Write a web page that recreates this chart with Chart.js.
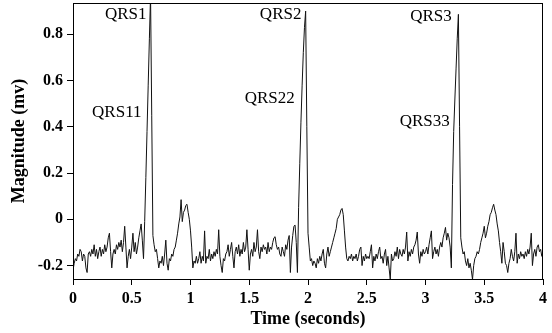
<!DOCTYPE html>
<html>
<head>
<meta charset="utf-8">
<script src="https://cdn.jsdelivr.net/npm/chart.js@4.4.1/dist/chart.umd.min.js"></script>
<style>
  body { margin: 0; background: #fff; }
  canvas { display: block; }
</style>
</head>
<body>
<canvas id="chart" width="552" height="333"></canvas>
<script>
'use strict';

const sampleStep = 0.01;
const magnitude = [
  -0.22, -0.19, -0.17, -0.18, -0.15, -0.16, -0.13, -0.14, -0.18, -0.15,
  -0.16, -0.21, -0.23, -0.15, -0.14, -0.16, -0.13, -0.15, -0.11, -0.16,
  -0.13, -0.17, -0.14, -0.12, -0.16, -0.13, -0.15, -0.11, -0.14, -0.12,
  -0.08, -0.06, -0.14, -0.21, -0.15, -0.13, -0.15, -0.11, -0.13, -0.10,
  -0.12, -0.09, -0.14, -0.10, -0.03, -0.12, -0.21, -0.16, -0.13, -0.17,
  -0.12, -0.06, -0.14, -0.10, -0.15, -0.12, -0.08, -0.05, -0.02, -0.09,
  -0.17, -0.01, 0.18, 0.38, 0.58, 0.78, 0.97, 0.45, -0.07, -0.11,
  -0.14, -0.13, -0.17, -0.21, -0.18, -0.19, -0.16, -0.20, -0.15, -0.09,
  -0.19, -0.22, -0.17, -0.18, -0.15, -0.16, -0.13, -0.12, -0.09, -0.06,
  -0.02, 0.01, 0.085, -0.01, 0.03, 0.04, 0.06, 0.065, 0.03, 0.0,
  -0.05, -0.12, -0.21, -0.18, -0.19, -0.16, -0.19, -0.17, -0.14, -0.19,
  -0.16, -0.18, -0.05, -0.19, -0.16, -0.17, -0.13, -0.18, -0.15, -0.17,
  -0.14, -0.16, -0.13, -0.15, -0.045, -0.16, -0.20, -0.23, -0.17, -0.18,
  -0.15, -0.14, -0.11, -0.16, -0.13, -0.10, -0.16, -0.21, -0.14, -0.12,
  -0.15, -0.11, -0.16, -0.13, -0.15, -0.10, -0.14, -0.12, -0.045, -0.13,
  -0.22, -0.15, -0.13, -0.16, -0.10, -0.14, -0.12, -0.045, -0.14, -0.17,
  -0.12, -0.14, -0.11, -0.13, -0.12, -0.15, -0.10, -0.14, -0.12, -0.13,
  -0.10, -0.08, -0.075, -0.11, -0.13, -0.12, -0.15, -0.16, -0.12, -0.14,
  -0.16, -0.11, -0.13, -0.09, -0.07, -0.23, -0.12, -0.07, -0.03, -0.025,
  -0.10, -0.23, 0.05, 0.24, 0.42, 0.58, 0.72, 0.83, 0.90, 0.40,
  -0.06, -0.12, -0.18, -0.17, -0.20, -0.18, -0.19, -0.21, -0.17, -0.19,
  -0.16, -0.18, -0.15, -0.13, -0.19, -0.21, -0.15, -0.12, -0.16, -0.14,
  -0.12, -0.10, -0.08, -0.06, -0.04, 0.00, 0.01, 0.02, 0.04, 0.047,
  0.02, -0.05, -0.12, -0.17, -0.18, -0.16, -0.17, -0.15, -0.18, -0.16,
  -0.17, -0.15, -0.18, -0.16, -0.13, -0.12, -0.20, -0.16, -0.18, -0.15,
  -0.17, -0.16, -0.17, -0.14, -0.11, -0.21, -0.16, -0.18, -0.15, -0.17,
  -0.14, -0.12, -0.17, -0.16, -0.19, -0.15, -0.13, -0.20, -0.16, -0.21,
  -0.26, -0.15, -0.18, -0.17, -0.14, -0.16, -0.12, -0.17, -0.13, -0.15,
  -0.16, -0.13, -0.15, -0.12, -0.055, -0.18, -0.14, -0.16, -0.13, -0.15,
  -0.12, -0.11, -0.09, -0.055, -0.15, -0.19, -0.14, -0.16, -0.13, -0.15,
  -0.14, -0.12, -0.15, -0.11, -0.08, -0.05, -0.17, -0.14, -0.12, -0.15,
  -0.13, -0.16, -0.12, -0.10, -0.12, -0.08, -0.06, -0.035, -0.09, -0.06,
  -0.08, -0.12, -0.21, 0.15, 0.38, 0.52, 0.65, 0.78, 0.886, 0.40,
  -0.08, -0.12, -0.15, -0.14, -0.18, -0.20, -0.17, -0.21, -0.19, -0.22,
  -0.26, -0.20, -0.17, -0.16, -0.14, -0.15, -0.13, -0.10, -0.08, -0.06,
  -0.03, -0.08, -0.06, -0.03, -0.01, 0.02, 0.03, 0.05, 0.065, 0.04,
  0.02, -0.02, -0.05, -0.10, -0.14, -0.19, -0.10, -0.14, -0.19, -0.20,
  -0.23, -0.19, -0.17, -0.13, -0.16, -0.18, -0.14, -0.06, -0.19, -0.15,
  -0.17, -0.14, -0.16, -0.15, -0.17, -0.14, -0.16, -0.13, -0.15, -0.12,
  -0.06, -0.20, -0.15, -0.13, -0.16, -0.12, -0.11, -0.14, -0.13, -0.16,
  -0.15
];

const xTicks = [0, 0.5, 1, 1.5, 2, 2.5, 3, 3.5, 4];
const yTicks = [-0.2, 0, 0.2, 0.4, 0.6, 0.8];

// peak labels: text, time (right edge of text), magnitude (middle of text)
const qrsNames = ['QRS1', 'QRS11', 'QRS2', 'QRS22', 'QRS3', 'QRS33'];
const qrsTimes = [0.626, 0.583, 1.944, 1.887, 3.224, 3.207];
const qrsLevels = [0.885, 0.462, 0.887, 0.522, 0.878, 0.422];

let points = magnitude.map((v, i) => ({ x: i * sampleStep, y: v }));

const frameAndLabels = {
  id: 'frameAndLabels',
  afterDatasetsDraw(chart) {
    const { ctx, chartArea, scales } = chart;
    ctx.save();
    ctx.strokeStyle = '#000';
    ctx.lineWidth = 1;
    ctx.strokeRect(chartArea.left + 0.5, chartArea.top + 0.5,
      chartArea.right - chartArea.left - 1, chartArea.bottom - chartArea.top);
    ctx.fillStyle = '#000';
    ctx.font = '17px "Liberation Serif"';
    ctx.textAlign = 'right';
    ctx.textBaseline = 'middle';
    for (let i = 0; i < qrsNames.length; i++) {
      ctx.fillText(qrsNames[i], scales.x.getPixelForValue(qrsTimes[i]),
        scales.y.getPixelForValue(qrsLevels[i]));
    }
    ctx.restore();
  }
};

const tickFont = { family: '"Liberation Serif"', size: 16, weight: 'bold' };
const titleFont = { family: '"Liberation Serif"', size: 18, weight: 'bold' };

new Chart(document.getElementById('chart'), {
  type: 'line',
  data: {
    datasets: [{
      data: points,
      borderColor: '#111',
      borderWidth: 1,
      pointRadius: 0,
      tension: 0
    }]
  },
  options: {
    responsive: false,
    animation: false,
    layout: { padding: { top: 3, right: 9, left: 0, bottom: 0 } },
    plugins: { legend: { display: false }, tooltip: { enabled: false } },
    scales: {
      x: {
        type: 'linear',
        min: 0,
        max: 4,
        afterBuildTicks: s => { s.ticks = xTicks.map(v => ({ value: v })); },
        afterFit: s => {
          s.height = 54;
          s.paddingLeft = 0;
          s.paddingRight = 0;
        },
        grid: { display: true, drawOnChartArea: false, drawTicks: true, tickLength: 6, color: '#000' },
        border: { display: true, color: '#000', width: 1 },
        ticks: {
          color: '#000', font: tickFont, padding: 4, maxRotation: 0,
          callback: v => String(v)
        },
        title: {
          display: true, text: 'Time (seconds)', color: '#000', font: titleFont,
          padding: { top: 0, bottom: 3 }
        }
      },
      y: {
        min: -0.258,
        max: 0.935,
        afterBuildTicks: s => { s.ticks = yTicks.map(v => ({ value: v })); },
        afterFit: s => {
          s.width = 73;
          s.paddingTop = 0;
          s.paddingBottom = 0;
        },
        grid: { display: true, drawOnChartArea: false, drawTicks: true, tickLength: 6, color: '#000' },
        border: { display: true, color: '#000', width: 1 },
        ticks: {
          color: '#000', font: tickFont, padding: 4,
          callback: v => String(v)
        },
        title: {
          display: true, text: 'Magnitude (mv)', color: '#000', font: titleFont,
          padding: { top: 9, bottom: 0 }
        }
      }
    }
  },
  plugins: [frameAndLabels]
});
</script>
</body>
</html>
